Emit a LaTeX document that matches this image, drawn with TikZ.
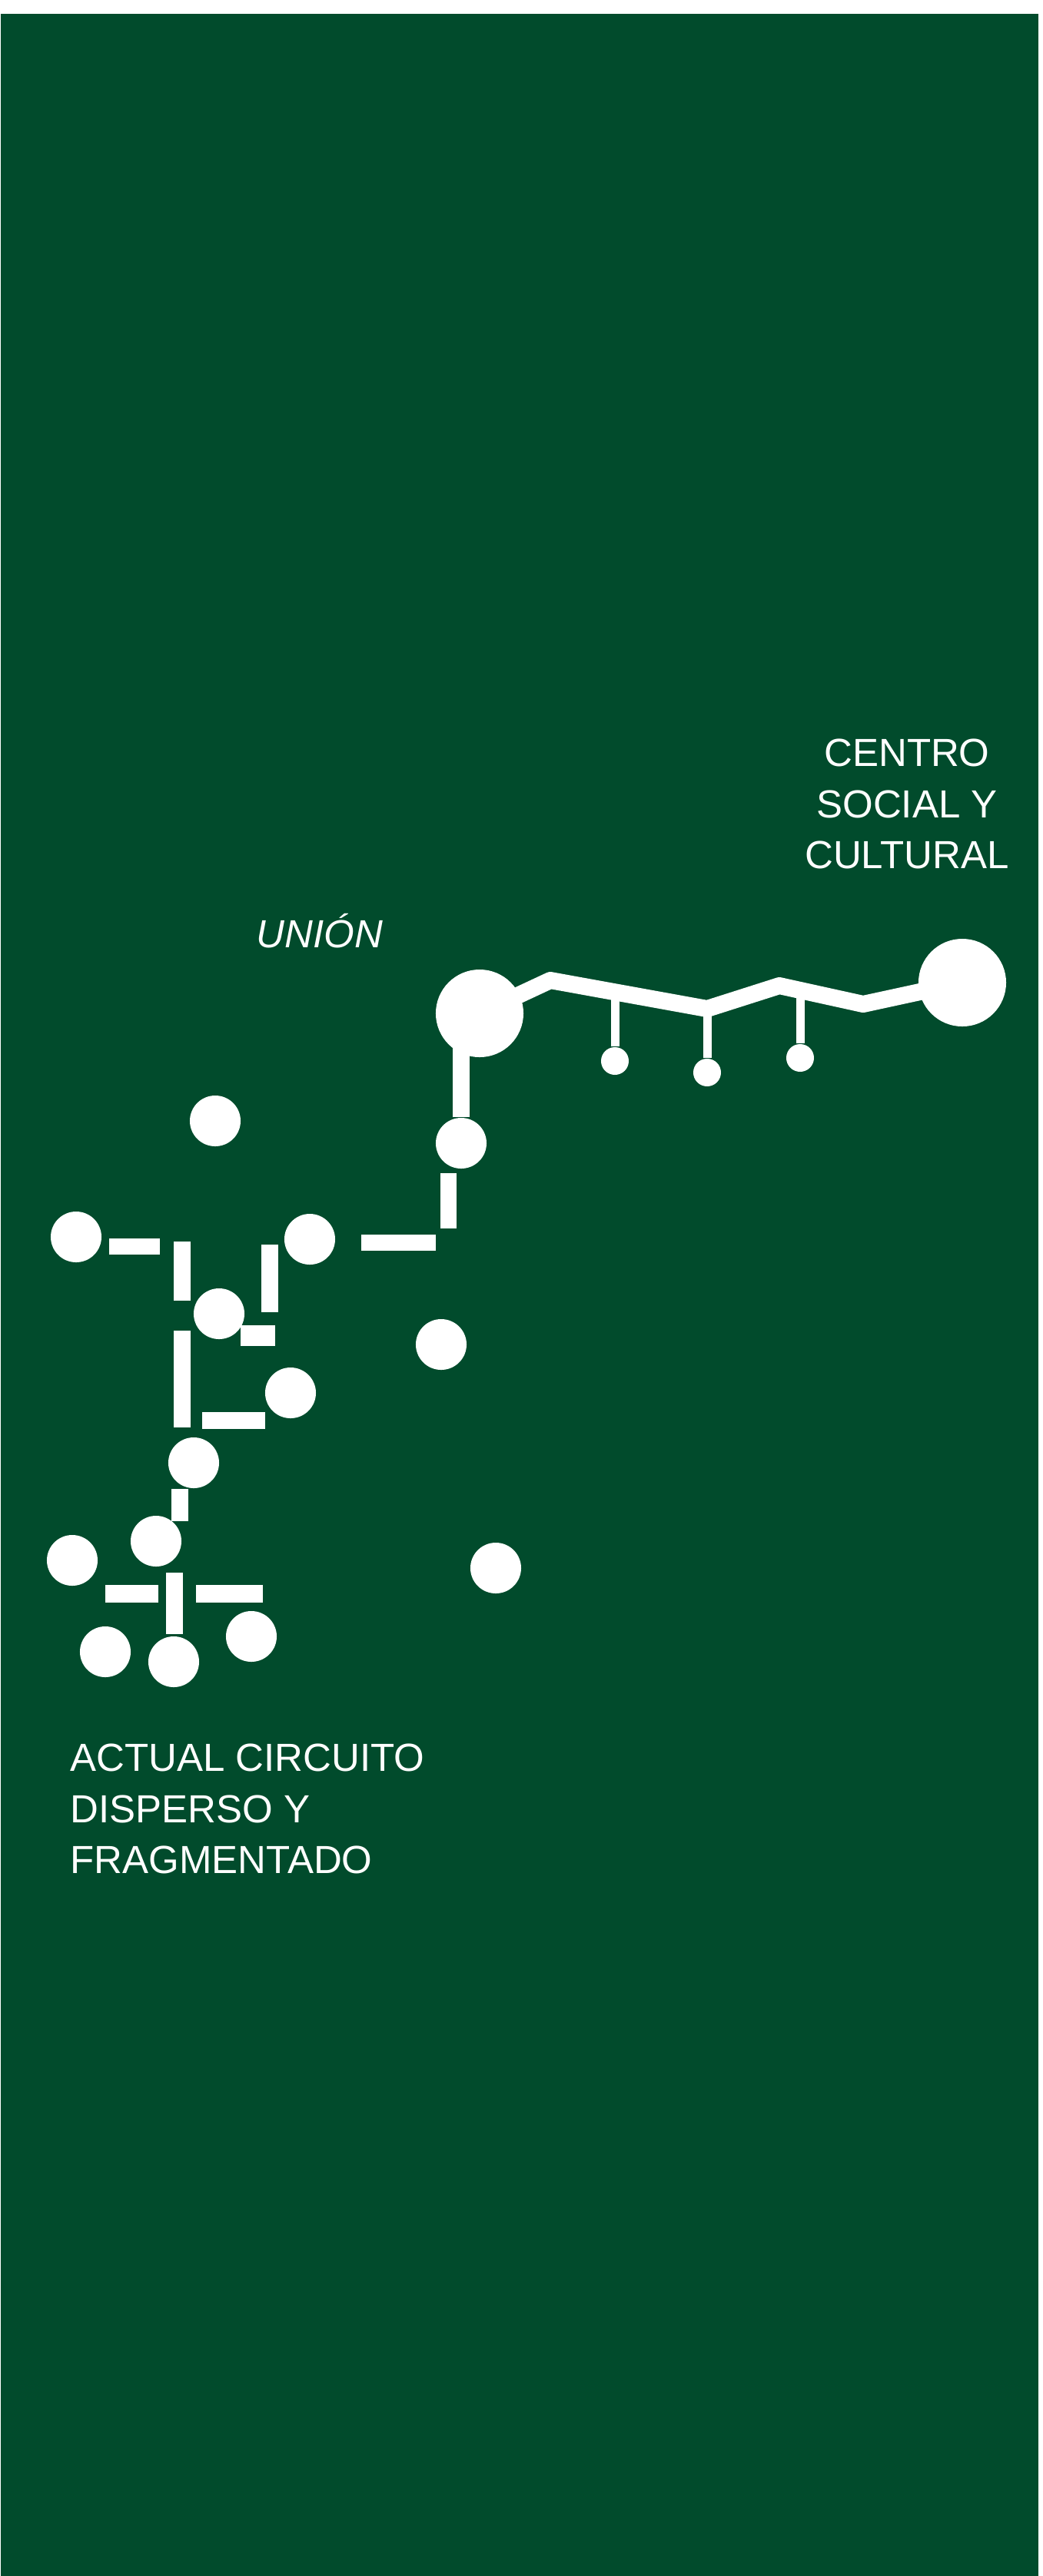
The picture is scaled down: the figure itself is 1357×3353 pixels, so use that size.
\documentclass[tikz,border=0pt]{standalone}
\usepackage{fontspec}
\setmainfont{Liberation Sans}
\definecolor{bosque}{RGB}{1,75,44}

\begin{document}
\begin{tikzpicture}[x=0.01cm, y=-0.01cm,
    dot/.style={circle, fill=white, inner sep=0pt, minimum size=0.66cm},
    hub/.style={circle, fill=white, inner sep=0pt, minimum size=1.14cm},
    bulb/.style={circle, fill=white, inner sep=0pt, minimum size=0.36cm},
    trace/.style={draw=white, line width=0.22cm, line join=round},
    stalk/.style={draw=white, line width=0.11cm},
    bar/.style={fill=white},
    txt/.style={text=white, inner sep=0pt, font=\fontsize{14.5}{19}\selectfont}]
    \useasboundingbox (0,0) rectangle (1357,3353);
    \fill[white] (0,0) rectangle (1357,3353);
    \fill[bosque] (1,18) rectangle (1351,3353);

    % new circuit
    \node (hubL) [hub] at (624,1319) {};
    \node (hubR) [hub] at (1252,1279) {};
    \coordinate (w1) at (716,1276);
    \coordinate (w2) at (920,1313);
    \coordinate (w3) at (1014,1283);
    \coordinate (w4) at (1123,1307);
    \node (bulb1) [bulb] at (800,1381) {};
    \node (bulb2) [bulb] at (920,1396) {};
    \node (bulb3) [bulb] at (1041,1377) {};
    \node (joint) [dot] at (600,1488) {};

    \draw[trace] (hubL.center) -- (w1) -- (w2) -- (w3) -- (w4) -- (hubR.center);
    \draw[trace] (joint) -- (joint |- hubL);
    \draw[stalk] (bulb1) -- ++(0,-90);
    \draw[stalk] (bulb2) -- (bulb2 |- w2);
    \draw[stalk] (bulb3) -- ++(0,-88);

    % scattered points
    \node (p1) [dot] at (280,1459) {};
    \node (p2) [dot] at (99,1610) {};
    \node (p3) [dot] at (403,1613) {};
    \node (p4) [dot] at (285,1710) {};
    \node (p5) [dot] at (574,1750) {};
    \node (p6) [dot] at (378,1813) {};
    \node (p7) [dot] at (252,1904) {};
    \node (p8) [dot] at (203,2006) {};
    \node (p9) [dot] at (94,2031) {};
    \node (p10) [dot] at (645,2041) {};
    \node (p11) [dot] at (137,2150) {};
    \node (p12) [dot] at (226,2163) {};
    \node (p13) [dot] at (327,2130) {};

    % broken links
    \fill[bar] (573,1527) rectangle (594,1599);
    \fill[bar] (470,1607) rectangle (567,1628);
    \fill[bar] (142,1612) rectangle (208,1633);
    \fill[bar] (226,1616) rectangle (248,1693);
    \fill[bar] (340,1620) rectangle (362,1708);
    \fill[bar] (313,1725) rectangle (358,1752);
    \fill[bar] (226,1732) rectangle (248,1858);
    \fill[bar] (263,1838) rectangle (345,1860);
    \fill[bar] (223,1938) rectangle (245,1980);
    \fill[bar] (137,2063) rectangle (206,2086);
    \fill[bar] (216,2047) rectangle (238,2127);
    \fill[bar] (255,2063) rectangle (342,2086);

    % labels
    \node (centro) [txt, align=center, anchor=north] at (1180,961) {CENTRO\\SOCIAL Y\\CULTURAL};
    \node (union) [txt, anchor=base] at (416,1233) {\itshape UNIÓN};
    \node (actual) [txt, align=left, anchor=north west] at (91,2269) {ACTUAL CIRCUITO\\DISPERSO Y\\FRAGMENTADO};
\end{tikzpicture}
\end{document}
